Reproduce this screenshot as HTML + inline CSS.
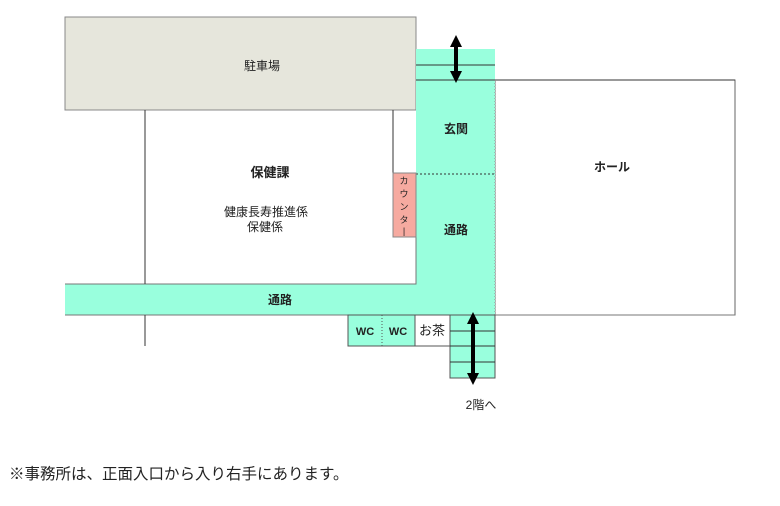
<!DOCTYPE html>
<html><head><meta charset="utf-8"><style>
body{margin:0;background:#fff;width:780px;height:501px;overflow:hidden;font-family:"Liberation Sans","Noto Sans CJK JP",sans-serif;}
svg text{font-family:"Liberation Sans","Noto Sans CJK JP",sans-serif;fill:#222;}
</style></head><body>
<svg width="780" height="501" viewBox="0 0 780 501" font-size="12">
<defs>
<marker id="ah" viewBox="0 0 10 10" refX="5" refY="5" markerWidth="3" markerHeight="3" orient="auto-start-reverse"><path d="M0,0 L10,5 L0,10 z" fill="#000"/></marker>
</defs>
<rect x="65" y="17" width="351" height="93" fill="#e6e6dc" stroke="#888" stroke-width="1"/>
<text x="262" y="70" text-anchor="middle">駐車場</text>
<rect x="495" y="80" width="240" height="235" fill="#fff" stroke="#666" stroke-width="1"/>
<text x="612" y="171" text-anchor="middle" font-weight="bold">ホール</text>
<rect x="416" y="49" width="79" height="266" fill="#9fd" />
<line x1="416" y1="65" x2="495" y2="65" stroke="#333"/>
<line x1="416" y1="80" x2="735" y2="80" stroke="#333"/>
<line x1="416" y1="174" x2="495" y2="174" stroke="#333" stroke-dasharray="2,2"/>
<line x1="495" y1="80" x2="495" y2="315" stroke="#888" stroke-dasharray="1,2"/>
<text x="456" y="133" text-anchor="middle" font-weight="bold">玄関</text>
<text x="456" y="234" text-anchor="middle" font-weight="bold">通路</text>
<rect x="65" y="284" width="351" height="31" fill="#9fd"/>
<path d="M65 284 H416 V237" fill="none" stroke="#777"/>
<line x1="416" y1="237" x2="416" y2="284" stroke="#777" stroke-dasharray="1,2"/>
<line x1="65" y1="315" x2="735" y2="315" stroke="#777"/>
<text x="280" y="304" text-anchor="middle" font-weight="bold">通路</text>
<line x1="145" y1="110" x2="145" y2="284" stroke="#333"/>
<line x1="145" y1="315" x2="145" y2="346" stroke="#333"/>
<line x1="393" y1="110" x2="393" y2="173" stroke="#333"/>
<text x="270" y="177" text-anchor="middle" font-weight="bold" style="font-size:13px">保健課</text>
<text x="224" y="216">健康長寿推進係</text>
<text x="247" y="231">保健係</text>
<rect x="393" y="173" width="23" height="64" fill="#f6aaa0" stroke="#888"/>
<g style="font-size:9px" text-anchor="middle">
<text x="404" y="184">カ</text>
<text x="404" y="197">ウ</text>
<text x="404" y="210">ン</text>
<text x="404" y="223">タ</text>
<text x="404" y="234">|</text>
</g>
<rect x="348" y="315" width="67" height="31" fill="#9fd" stroke="#555"/>
<line x1="382" y1="315" x2="382" y2="346" stroke="#555" stroke-dasharray="1,2"/>
<rect x="415" y="315" width="35" height="31" fill="#fff" stroke="#555"/>
<text x="365" y="335" text-anchor="middle" style="font-size:11px" font-weight="bold">WC</text>
<text x="398" y="335" text-anchor="middle" style="font-size:11px" font-weight="bold">WC</text>
<text x="432" y="335" text-anchor="middle" style="font-size:13px">お茶</text>
<rect x="450" y="315" width="45" height="63" fill="#9fd" stroke="#555"/>
<line x1="450" y1="331" x2="495" y2="331" stroke="#333"/>
<line x1="450" y1="346" x2="495" y2="346" stroke="#333"/>
<line x1="450" y1="362" x2="495" y2="362" stroke="#333"/>
<line x1="473" y1="318" x2="473" y2="379" stroke="#000" stroke-width="4" marker-start="url(#ah)" marker-end="url(#ah)"/>
<line x1="456" y1="41" x2="456" y2="77" stroke="#000" stroke-width="4" marker-start="url(#ah)" marker-end="url(#ah)"/>
<text x="481" y="409" text-anchor="middle">2階へ</text>
<text x="9" y="479" style="font-size:15.5px">※事務所は、正面入口から入り右手にあります。</text>
</svg>
</body></html>
